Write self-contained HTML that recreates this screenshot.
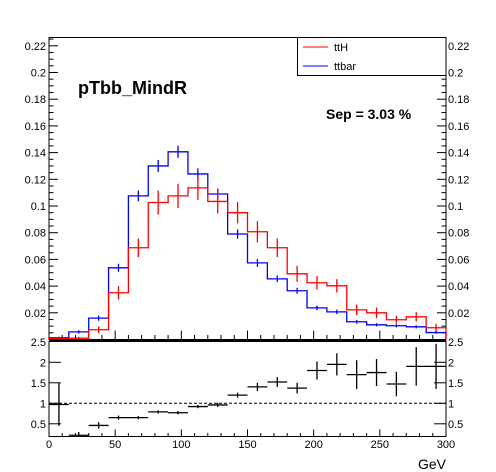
<!DOCTYPE html>
<html><head><meta charset="utf-8"><style>
html,body{margin:0;padding:0;background:#fff;}
svg{display:block;font-family:"Liberation Sans",Arial,sans-serif;}
</style></head><body>
<svg id="c" width="496" height="472" viewBox="0 0 496 472"></svg>
<script>
const binEdgesStart = 0, binWidth = 15;
const ttH = [0.0008,0.0010,0.0073,0.0350,0.0687,0.1026,0.1076,0.1136,0.1034,0.0950,0.0807,0.0687,0.0492,0.0425,0.0402,0.0222,0.0200,0.0148,0.0170,0.0088];
const ttHErr = [0.001,0.001,0.0025,0.005,0.007,0.009,0.009,0.009,0.009,0.008,0.008,0.007,0.006,0.005,0.005,0.004,0.004,0.003,0.0035,0.003];
const ttbar = [0.0013,0.0057,0.0160,0.0537,0.1076,0.1300,0.1406,0.1240,0.1090,0.0790,0.0574,0.0454,0.0365,0.0237,0.0207,0.0133,0.0110,0.0103,0.0095,0.0052];
const ttbarErr = [0.0008,0.0012,0.002,0.003,0.004,0.0045,0.0045,0.0042,0.004,0.0035,0.003,0.0025,0.0022,0.0018,0.0017,0.0014,0.0012,0.0012,0.0012,0.0009];
const ratio = [0.97,0.22,0.46,0.65,0.65,0.79,0.77,0.92,0.96,1.20,1.40,1.52,1.37,1.80,1.95,1.70,1.75,1.47,1.90,1.90];
const ratioErr = [0.52,0.08,0.08,0.05,0.04,0.04,0.04,0.04,0.05,0.06,0.10,0.12,0.13,0.22,0.27,0.35,0.33,0.30,0.47,0.55];
const mainTicks = [0.02,0.04,0.06,0.08,0.1,0.12,0.14,0.16,0.18,0.2,0.22];
const mainTickLabels = ["0.02","0.04","0.06","0.08","0.1","0.12","0.14","0.16","0.18","0.2","0.22"];
const ratioTicks = [0.5,1,1.5,2,2.5];
const ratioTickLabels = ["0.5","1","1.5","2","2.5"];
const xTicks = [0,50,100,150,200,250,300];
const xTickLabels = ["0","50","100","150","200","250","300"];

const NS="http://www.w3.org/2000/svg", svg=document.getElementById('c');
const L=49,R=446,MT=37.5,MB=339.5,RT=341.5,RB=436.5;
const X=v=>L+(v-0)/300*(R-L);
const Y=v=>MB-v*1335;
const RY=v=>403.3-(v-1)*41;
function el(t,a,p){const e=document.createElementNS(NS,t);for(const k in a)e.setAttribute(k,a[k]);(p||svg).appendChild(e);return e;}
function txt(x,y,s,anchor,size,weight){const t=el('text',{x:x,y:y,'text-anchor':anchor||'start','font-size':size||11,'font-weight':weight||'normal',fill:'#000'});t.textContent=s;return t;}

const mf=el('rect',{x:L,y:MT,width:R-L,height:MB-MT,fill:'none',stroke:'#000','stroke-width':1});


for(let v=0.005;v<=0.226;v+=0.005){const y=Y(v);const major=Math.abs(v/0.02-Math.round(v/0.02))<1e-6;const len=major?9:4.5;
 el('line',{x1:L,y1:y,x2:L+len,y2:y,stroke:'#000'});el('line',{x1:R,y1:y,x2:R-len,y2:y,stroke:'#000'});}
mainTicks.forEach((v,i)=>{
 const a=txt(L-3,Y(v)+4,mainTickLabels[i],'end',11);
 const b=txt(R+2,Y(v)+4,mainTickLabels[i],'start',11);
});
for(let g=0;g<=300;g+=10){const x=X(g);const major=g%50===0;
 el('line',{x1:x,y1:MB,x2:x,y2:MB-(major?9:4.5),stroke:'#000'});
 el('line',{x1:x,y1:RB,x2:x,y2:RB-(major?7:3.5),stroke:'#000'});}

function hist(vals,errs,color,name){
 let d='M'+X(0)+','+MB;
 vals.forEach((v,i)=>{d+=' L'+X(i*binWidth)+','+Y(v)+' L'+X((i+1)*binWidth)+','+Y(v);});
 d+=' L'+X(300)+','+MB;
 const p=el('path',{d:d,fill:'none',stroke:color,'stroke-width':1.3});
 
 
 vals.forEach((v,i)=>{const xc=X((i+0.5)*binWidth);
  const e=el('line',{x1:xc,y1:Y(v-errs[i]),x2:xc,y2:Y(v+errs[i]),stroke:color,'stroke-width':1.3});
  
  });
}
hist(ttbar,ttbarErr,'#0000ff','ttbar');
hist(ttH,ttHErr,'#ff0000','tth');

const lg=el('g',{});
el('rect',{x:297.5,y:MT,width:R-297.5,height:38,fill:'#fff',stroke:'#000'},lg);
el('line',{x1:303,y1:47,x2:328,y2:47,stroke:'#ff0000'},lg);
const l1=txt(334,51,'ttH','start',11);lg.appendChild(l1);
el('line',{x1:303,y1:66,x2:328,y2:66,stroke:'#0000ff'},lg);
const l2=txt(334,70,'ttbar','start',11);lg.appendChild(l2);

const t1=txt(78,94,'pTbb_MindR','start',18,'bold');
const t2=txt(326,119,'Sep = 3.03 %','start',14,'bold');

const rf=el('rect',{x:L,y:RT,width:R-L,height:RB-RT,fill:'none',stroke:'#000','stroke-width':1});


el('line',{x1:L,y1:340.5,x2:R,y2:340.5,stroke:'#000','stroke-width':1.5});
ratioTicks.forEach((v,i)=>{const y=RY(v);
 if(v<2.4){el('line',{x1:L,y1:y,x2:L+12,y2:y,stroke:'#000'});el('line',{x1:R,y1:y,x2:R-12,y2:y,stroke:'#000'});}
 const a=txt(L-3,y+4,ratioTickLabels[i],'end',11);
 const b=txt(R+2,y+4,ratioTickLabels[i],'start',11);
});
const ref=el('line',{x1:L,y1:RY(1),x2:R,y2:RY(1),stroke:'#000','stroke-dasharray':'3,2'});

ratio.forEach((v,i)=>{const xc=X((i+0.5)*binWidth);const y=Math.min(RY(v),RB-0.5);
 const g=el('g',{});
 el('line',{x1:X(i*binWidth),y1:y,x2:X((i+1)*binWidth),y2:y,stroke:'#000','stroke-width':1.3},g);
 el('line',{x1:xc,y1:Math.min(RY(v-ratioErr[i]),RB),x2:xc,y2:Math.max(RY(v+ratioErr[i]),RT),stroke:'#000','stroke-width':1.3},g);
});
xTicks.forEach((v,i)=>{const a=txt(X(v),448,xTickLabels[i],'middle',11);});
const xt=txt(446,469,'GeV','end',14);
</script>
</body></html>
